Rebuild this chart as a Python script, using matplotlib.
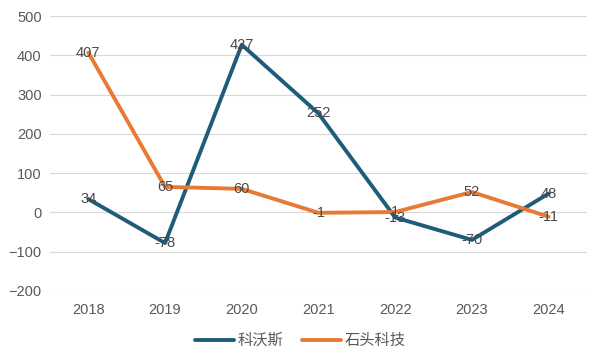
import matplotlib.pyplot as plt

plt.rcParams['font.family'] = ['Liberation Sans', 'Noto Sans CJK SC']

years = ['2018', '2019', '2020', '2021', '2022', '2023', '2024']
ecovacs = [34, -78, 427, 252, -13, -70, 48]
roborock = [407, 65, 60, -1, 1, 52, -11]

blue = '#1f5c7a'
orange = '#e97a35'
grey = '#595959'

fig = plt.figure(figsize=(6, 3.57), dpi=100)
ax = fig.add_axes([0.0833, 0.185, 0.895, 0.77])

x = list(range(len(years)))
ax.plot(x, ecovacs, color=blue, lw=2.8, label='科沃斯', solid_capstyle='round')
ax.plot(x, roborock, color=orange, lw=2.8, label='石头科技', solid_capstyle='round')

# data labels sit centred on the points, like the original
for xi, v in zip(x, ecovacs):
    ax.text(xi, v, str(v), ha='center', va='center', fontsize=10.5, color='#4a4a4a')
for xi, v in zip(x, roborock):
    ax.text(xi, v, str(v), ha='center', va='center', fontsize=10.5, color='#4a4a4a')

ax.set_xlim(-0.5, len(years) - 0.5)
ax.set_ylim(-200, 500)
ax.set_yticks(range(-200, 501, 100))
ax.set_xticks(x)
ax.set_xticklabels(years)
ax.tick_params(length=0, labelsize=10.5, labelcolor=grey)
ax.tick_params(axis='x', pad=9)
ax.tick_params(axis='y', pad=6)
ax.grid(axis='y', color='#d9d9d9', lw=0.8)
ax.set_axisbelow(True)
for s in ax.spines.values():
    s.set_visible(False)

fig.legend(loc='center', bbox_to_anchor=(0.5, 0.045), ncol=2, frameon=False,
           fontsize=11, labelcolor=grey, handlelength=2.6, handletextpad=0.2,
           columnspacing=1.2)

fig.savefig('out.png')
